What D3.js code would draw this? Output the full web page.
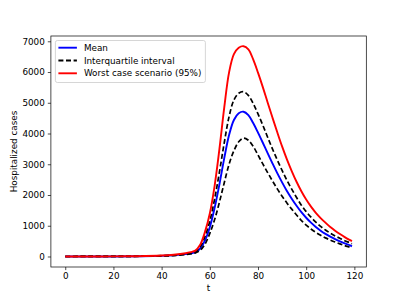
<!DOCTYPE html>
<html>
<head>
<meta charset="utf-8">
<script src="https://cdn.jsdelivr.net/npm/d3@7"></script>
<style>
  body { margin: 0; background: #fff; }
  svg text { font-family: "DejaVu Sans", sans-serif; }
</style>
</head>
<body>
<div id="chart"></div>
<script>
// sample times (days)
const times = [0, 10, 20, 30, 40, 45, 50, 52, 54, 56, 58, 60, 62, 64, 66, 68, 70, 72, 74, 76, 78, 80,
  82, 84, 86, 88, 90, 92, 94, 96, 98, 100, 102, 104, 106, 108, 110, 112, 114, 116, 118, 119];

const meanCases = [0, 1, 2, 7, 20, 40, 75, 100, 140, 260, 520, 950, 1580, 2350, 3200, 3950, 4440, 4660, 4710, 4600, 4340, 4030,
  3700, 3360, 3030, 2710, 2410, 2130, 1880, 1650, 1440, 1260, 1100, 960, 840, 735, 645, 565, 495, 430, 370, 330];

const upperQuartile = [0, 1, 3, 8, 25, 45, 90, 120, 165, 320, 650, 1150, 1870, 2750, 3700, 4550, 5090, 5310, 5360, 5240, 4980, 4640,
  4270, 3880, 3500, 3140, 2800, 2480, 2190, 1920, 1670, 1460, 1280, 1120, 980, 860, 760, 670, 590, 515, 450, 415];

const lowerQuartile = [0, 1, 2, 6, 15, 30, 60, 80, 115, 200, 400, 750, 1200, 1770, 2400, 3000, 3440, 3730, 3850, 3780, 3580, 3300,
  3010, 2730, 2460, 2200, 1960, 1740, 1540, 1350, 1170, 1020, 895, 785, 690, 605, 535, 470, 410, 355, 305, 280];

const worstCase = [0, 1, 3, 10, 30, 55, 105, 140, 190, 380, 800, 1400, 2300, 3500, 4850, 5990, 6580, 6790, 6840, 6740, 6410, 5980,
  5510, 5010, 4520, 4040, 3580, 3160, 2780, 2430, 2120, 1850, 1620, 1420, 1250, 1100, 960, 840, 730, 630, 540, 500];

const xTicks = [0, 20, 40, 60, 80, 100, 120];
const yTicks = [0, 1000, 2000, 3000, 4000, 5000, 6000, 7000];

const legendItems = [
  { label: 'Mean', color: 'blue', dash: null },
  { label: 'Interquartile interval', color: 'black', dash: '5,2.6' },
  { label: 'Worst case scenario (95%)', color: 'red', dash: null },
];

const width = 407;
const height = 300;
const margin = { top: 36, right: 40.7, bottom: 33, left: 50.9 };

const svg = d3.select('#chart')
  .append('svg')
  .attr('width', width)
  .attr('height', height);

const x = d3.scaleLinear()
  .domain([-5.95, 124.95])
  .range([margin.left, width - margin.right]);

const y = d3.scaleLinear()
  .domain([-342, 7172])
  .range([height - margin.bottom, margin.top]);

const line = (vals) => d3.line()
  .x((d, i) => x(times[i]))
  .y((d) => y(d))
  .curve(d3.curveCatmullRom.alpha(0.5))(vals);

const plot = svg.append('g');

// draw order: mean, quartiles, worst case on top
plot.append('path')
  .attr('d', line(meanCases))
  .attr('fill', 'none')
  .attr('stroke', 'blue')
  .attr('stroke-width', 1.9);

[upperQuartile, lowerQuartile].forEach((vals) => {
  plot.append('path')
    .attr('d', line(vals))
    .attr('fill', 'none')
    .attr('stroke', 'black')
    .attr('stroke-width', 1.7)
    .attr('stroke-dasharray', '5,2.6');
});

plot.append('path')
  .attr('d', line(worstCase))
  .attr('fill', 'none')
  .attr('stroke', 'red')
  .attr('stroke-width', 1.9);

// axes
const xAxis = svg.append('g')
  .attr('transform', `translate(0,${height - margin.bottom})`)
  .call(d3.axisBottom(x).tickValues(xTicks).tickSize(3.1).tickPadding(3).tickFormat(d3.format('d')));

const yAxis = svg.append('g')
  .attr('transform', `translate(${margin.left},0)`)
  .call(d3.axisLeft(y).tickValues(yTicks).tickSize(3.1).tickPadding(3).tickFormat(d3.format('d')));

[xAxis, yAxis].forEach((g) => {
  g.select('.domain').remove();
  g.selectAll('text').attr('font-size', 8.8).attr('fill', '#000').style('font-family', '"DejaVu Sans", sans-serif');
  g.selectAll('line').attr('stroke', '#000').attr('stroke-width', 0.7);
});

// frame
svg.append('rect')
  .attr('x', margin.left)
  .attr('y', margin.top)
  .attr('width', width - margin.left - margin.right)
  .attr('height', height - margin.top - margin.bottom)
  .attr('fill', 'none')
  .attr('stroke', '#000')
  .attr('stroke-width', 0.7);

// axis labels
svg.append('text')
  .attr('x', (margin.left + width - margin.right) / 2)
  .attr('y', 291)
  .attr('text-anchor', 'middle')
  .attr('font-size', 8.8)
  .text('t');

svg.append('text')
  .attr('transform', `translate(17,${(margin.top + height - margin.bottom) / 2}) rotate(-90)`)
  .attr('text-anchor', 'middle')
  .attr('font-size', 8.8)
  .text('Hospitalized cases');

// legend
const legend = svg.append('g').attr('transform', `translate(${margin.left + 4.5},${margin.top + 4.5})`);

legend.append('rect')
  .attr('width', 150)
  .attr('height', 42)
  .attr('rx', 2)
  .attr('fill', 'white')
  .attr('fill-opacity', 0.8)
  .attr('stroke', '#ccc')
  .attr('stroke-width', 0.8);

legendItems.forEach((item, i) => {
  const ly = 7.2 + i * 12.8;
  legend.append('line')
    .attr('x1', 3).attr('x2', 21.5)
    .attr('y1', ly).attr('y2', ly)
    .attr('stroke', item.color)
    .attr('stroke-width', 1.9)
    .attr('stroke-dasharray', item.dash);
  legend.append('text')
    .attr('x', 28.5)
    .attr('y', ly)
    .attr('dy', '0.35em')
    .attr('font-size', 8.8)
    .text(item.label);
});

// fit legend box to widest label
const maxW = d3.max(legend.selectAll('text').nodes(), (n) => n.getComputedTextLength());
legend.select('rect').attr('width', 28.5 + maxW + 4);
</script>
</body>
</html>
